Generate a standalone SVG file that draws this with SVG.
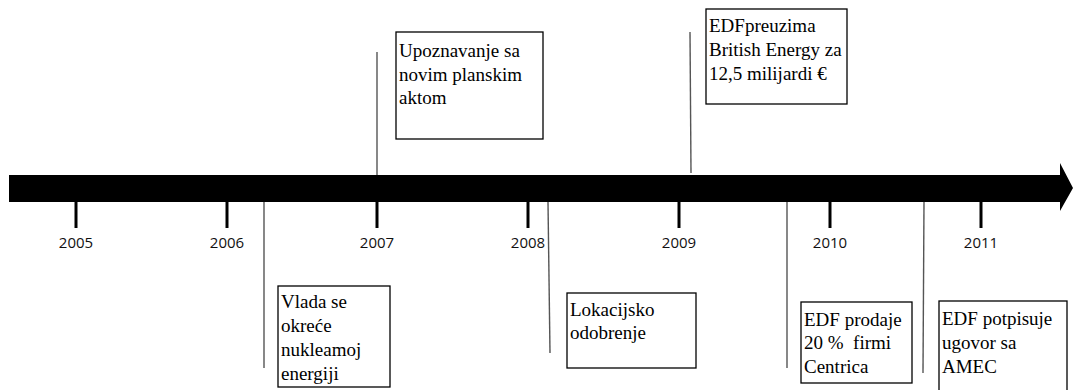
<svg xmlns="http://www.w3.org/2000/svg" width="1073" height="390" viewBox="0 0 1073 390">
<style>
.tick{stroke:#000;stroke-width:3}
.yr{font-size:15px;fill:#111;text-anchor:middle}
.box{fill:#fff;stroke:#000;stroke-width:1.3}
.t{font-size:19px;fill:#000}
.conn{stroke:#555;stroke-width:1.4;fill:none}
</style>
<rect width="1073" height="390" fill="#fff"/>
<g id="timeline">
<path d="M9,175 H1060 V163 L1073,188 L1060,211 V202 H9 Z" fill="#000"/>
<line class="tick" x1="76" y1="202" x2="76" y2="228"/>
<line class="tick" x1="227" y1="202" x2="227" y2="228"/>
<line class="tick" x1="377" y1="202" x2="377" y2="228"/>
<line class="tick" x1="528" y1="202" x2="528" y2="228"/>
<line class="tick" x1="679" y1="202" x2="679" y2="228"/>
<line class="tick" x1="830" y1="202" x2="830" y2="228"/>
<line class="tick" x1="981" y1="202" x2="981" y2="228"/>
<g font-family="Open Sans, Liberation Sans, sans-serif">
<text class="yr" x="76" y="248">2005</text>
<text class="yr" x="227" y="248">2006</text>
<text class="yr" x="377" y="248">2007</text>
<text class="yr" x="528" y="248">2008</text>
<text class="yr" x="679" y="248">2009</text>
<text class="yr" x="830" y="248">2010</text>
<text class="yr" x="981" y="248">2011</text>
</g>
</g>
<g id="connectors">
<line class="conn" x1="264" y1="202" x2="264" y2="368"/>
<line class="conn" x1="377" y1="52" x2="377" y2="175"/>
<line class="conn" x1="548" y1="202" x2="550" y2="353"/>
<line class="conn" x1="690" y1="32" x2="691" y2="173"/>
<line class="conn" x1="787" y1="202" x2="787" y2="368"/>
<line class="conn" x1="924" y1="202" x2="923" y2="373"/>
</g>
<g font-family="Liberation Serif, Times New Roman, serif">
<g id="n1">
<rect class="box" x="278" y="286" width="112" height="101"/>
<text class="t" x="281" y="308">Vlada se</text>
<text class="t" x="281" y="332">okreće</text>
<text class="t" x="281" y="356">nukleamoj</text>
<text class="t" x="281" y="380">energiji</text>
</g>
<g id="n2">
<rect class="box" x="396" y="32" width="147" height="107"/>
<text class="t" x="399" y="57">Upoznavanje sa</text>
<text class="t" x="399" y="81">novim planskim</text>
<text class="t" x="399" y="104">aktom</text>
</g>
<g id="n3">
<rect class="box" x="706" y="9" width="141" height="95"/>
<text class="t" x="709" y="32">EDFpreuzima</text>
<text class="t" x="709" y="56">British Energy za</text>
<text class="t" x="709" y="80">12,5 milijardi €</text>
</g>
<g id="n4">
<rect class="box" x="567" y="293" width="129" height="75"/>
<text class="t" x="570" y="316">Lokacijsko</text>
<text class="t" x="570" y="339">odobrenje</text>
</g>
<g id="n5">
<rect class="box" x="801" y="302" width="111" height="81"/>
<text class="t" x="804" y="326">EDF prodaje</text>
<text class="t" x="804" y="349" xml:space="preserve">20 %  firmi</text>
<text class="t" x="804" y="373">Centrica</text>
</g>
<g id="n6">
<rect class="box" x="939" y="301" width="128" height="100"/>
<text class="t" x="942" y="325">EDF potpisuje</text>
<text class="t" x="942" y="349">ugovor sa</text>
<text class="t" x="942" y="373">AMEC</text>
</g>
</g>
</svg>
